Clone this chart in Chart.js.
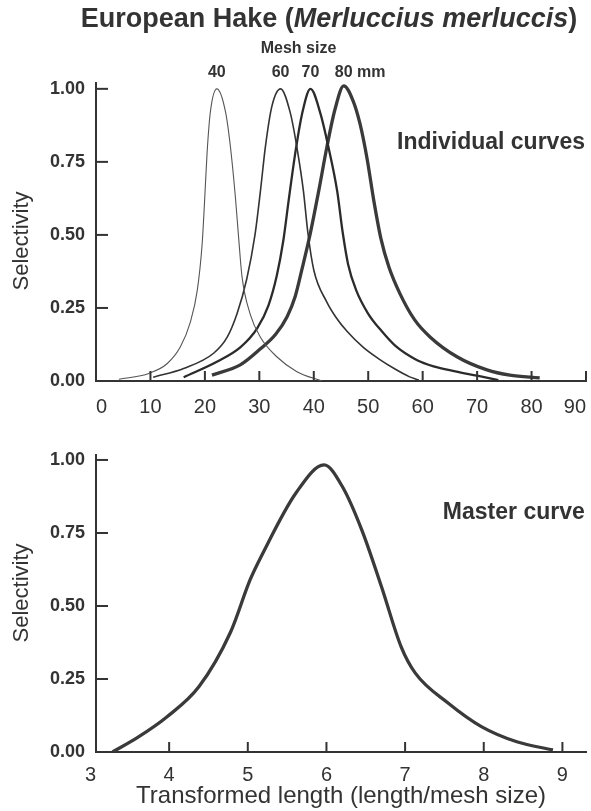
<!DOCTYPE html>
<html><head><meta charset="utf-8">
<script src="https://cdn.jsdelivr.net/npm/chart.js@4.4.0/dist/chart.umd.min.js"></script>
<style>
html,body{margin:0;padding:0;background:#fff;overflow:hidden;width:591px;height:811px;position:relative;}
#title{position:absolute;left:0;top:3px;width:658px;text-align:center;font:bold 27px "Liberation Sans",Arial,sans-serif;color:#333;white-space:nowrap;z-index:2;}
#w1{position:absolute;left:0;top:0;width:611px;height:420px;}
#w2{position:absolute;left:0;top:420px;width:611px;height:391px;}
</style></head><body>
<div id="w1"><canvas id="c1"></canvas></div>
<div id="w2"><canvas id="c2"></canvas></div>
<div id="title">European Hake (<i>Merluccius merluccis</i>)</div>
<script>
// ---- data ----
const topTickValues = [0,10,20,30,40,50,60,70,80,90];
const masterTickValues = [3,4,5,6,7,8,9];
const selTickValues = [0,0.25,0.5,0.75,1.0];
const meshSizes = ['40','60','70','80'];

const mesh40Len = [4.2,9.7,13.1,15.5,17.3,18.6,19.5,19.9,20.4,21.0,22.2,23.8,24.7,25.6,26.2,26.8,28.3,30.2,33.2,36.9,41.5];
const mesh40Sel = [0.006,0.026,0.06,0.117,0.2,0.31,0.47,0.6,0.78,0.92,1.0,0.92,0.80,0.63,0.49,0.36,0.23,0.15,0.083,0.032,0.0];

const mesh60Len = [10.5,16.1,21.6,24.1,25.9,27.7,29.2,30.2,31.1,32.3,33.9,35.7,36.9,38.1,38.9,40.0,42.4,44.0,46.1,49.1,52.0,55.0,57.5,59.3];
const mesh60Sel = [0.013,0.043,0.095,0.15,0.23,0.35,0.50,0.65,0.80,0.94,1.0,0.917,0.80,0.65,0.51,0.38,0.27,0.22,0.17,0.115,0.075,0.04,0.015,0.003];

const mesh70Len = [16.1,22.2,26.5,29.6,31.7,33.2,34.4,35.4,36.6,37.8,39.4,41.2,42.7,44.3,45.3,46.3,47.8,50.0,52.5,55.0,58.9,62.0,66.0,70.0,73.9];
const mesh70Sel = [0.013,0.066,0.115,0.18,0.26,0.36,0.48,0.62,0.78,0.91,1.0,0.917,0.80,0.65,0.51,0.40,0.31,0.23,0.17,0.12,0.072,0.05,0.033,0.018,0.003];

const mesh80Len = [21.3,26.5,30.2,33.0,35.1,36.6,37.8,39.3,40.9,42.4,43.9,45.5,47.2,48.5,49.8,51.0,52.3,53.8,55.8,58.5,61.4,66.3,71.8,76.0,81.5];
const mesh80Sel = [0.02,0.055,0.11,0.16,0.22,0.29,0.38,0.50,0.65,0.80,0.93,1.01,0.96,0.88,0.76,0.62,0.49,0.39,0.30,0.21,0.15,0.083,0.038,0.02,0.011];

const masterLen = [3.28,3.6,3.97,4.38,4.78,5.03,5.19,5.61,5.97,6.2,6.45,6.7,6.95,7.13,7.55,7.97,8.42,8.88];
const masterSel = [0.0,0.05,0.12,0.224,0.41,0.59,0.68,0.886,0.983,0.91,0.76,0.566,0.36,0.27,0.167,0.087,0.035,0.007];

// ---- helpers ----
const FAM = '"Liberation Sans", Arial, Helvetica, sans-serif';
const INK = '#333';
const zip = (xs, ys) => xs.map((x, i) => ({x: x, y: ys[i]}));

const inwardTicks = {
  id: 'inwardTicks',
  afterDraw(chart) {
    const {ctx, chartArea: a, scales: {x, y}} = chart;
    ctx.save();
    ctx.strokeStyle = INK; ctx.lineWidth = 2;
    x.ticks.forEach(t => {
      const px = x.getPixelForValue(t.value);
      if (px < a.left + 3) return;
      ctx.beginPath(); ctx.moveTo(px, a.bottom); ctx.lineTo(px, a.bottom - 10); ctx.stroke();
    });
    y.ticks.forEach(t => {
      const py = y.getPixelForValue(t.value);
      if (Math.abs(py - a.bottom) < 3) return;
      ctx.beginPath(); ctx.moveTo(a.left, py); ctx.lineTo(a.left + 12, py); ctx.stroke();
    });
    ctx.restore();
  }
};

function yTitle(ctx, text, cx, cy) {
  ctx.save();
  ctx.translate(cx, cy); ctx.rotate(-Math.PI / 2);
  ctx.font = '22px ' + FAM; ctx.fillStyle = INK;
  ctx.textAlign = 'center'; ctx.textBaseline = 'middle';
  ctx.fillText(text, 0, 0);
  ctx.restore();
}

function baseScales(xMin, xMax, xTicks, xHeight, tickPad) {
  return {
    x: {
      type: 'linear', min: xMin, max: xMax,
      afterBuildTicks: s => { s.ticks = xTicks.map(v => ({value: v})); },
      afterFit: s => { s.height = xHeight; },
      grid: {display: true, drawOnChartArea: false, drawTicks: false},
      border: {display: true, color: INK, width: 2},
      ticks: {color: INK, font: {family: FAM, size: 20}, padding: tickPad, autoSkip: false, maxRotation: 0}
    },
    y: {
      type: 'linear', min: 0,
      afterBuildTicks: s => { s.ticks = selTickValues.map(v => ({value: v})); },
      afterFit: s => { s.width = 96; },
      grid: {display: true, drawOnChartArea: false, drawTicks: false},
      border: {display: true, color: INK, width: 2},
      ticks: {color: INK, font: {family: FAM, size: 18, weight: 'bold'}, padding: 11, callback: v => Number(v).toFixed(2)}
    }
  };
}

const lineDs = (data, w, c) => ({
  data: data, borderColor: c, borderWidth: w, pointRadius: 0, fill: false,
  cubicInterpolationMode: 'monotone', showLine: true
});

// ---- top chart: individual curves ----
const topAnnot = {
  id: 'topAnnot',
  afterDraw(chart) {
    const {ctx, scales: {x, y}} = chart;
    ctx.save();
    ctx.fillStyle = INK;
    ctx.textBaseline = 'middle';
    ctx.font = 'bold 16px ' + FAM;
    ctx.textAlign = 'center';
    const top = y.getPixelForValue(1.0);
    ctx.fillText('Mesh size', x.getPixelForValue(37.2), top - 40);
    const peaks = [22.2, 33.9, 39.4, 45.5];
    meshSizes.forEach((m, i) => {
      ctx.textAlign = 'center';
      const px = x.getPixelForValue(peaks[i]);
      ctx.fillText(m, px, top - 16);
      if (i === meshSizes.length - 1) {
        ctx.textAlign = 'left';
        ctx.fillText(' mm', px + ctx.measureText(m).width / 2, top - 16);
      }
    });
    ctx.font = 'bold 23px ' + FAM;
    ctx.textAlign = 'left';
    ctx.fillText('Individual curves', x.getPixelForValue(55.3), y.getPixelForValue(0.815));
    ctx.restore();
    yTitle(ctx, 'Selectivity', 22, 241);
  }
};

const s1 = baseScales(0, 90, topTickValues, 39, 14);
s1.y.max = 1.02;
s1.x.ticks.align = 'inner';
new Chart(document.getElementById('c1'), {
  type: 'scatter',
  data: {datasets: [
    lineDs(zip(mesh40Len, mesh40Sel), 1.1, '#555'),
    lineDs(zip(mesh60Len, mesh60Sel), 1.6, '#333'),
    lineDs(zip(mesh70Len, mesh70Sel), 2.3, '#2b2b2b'),
    lineDs(zip(mesh80Len, mesh80Sel), 3.3, '#3a3a3a')
  ]},
  options: {
    responsive: true, maintainAspectRatio: false, animation: false, devicePixelRatio: 1,
    layout: {padding: {top: 83, right: 25, left: 0, bottom: 0}},
    plugins: {legend: {display: false}, tooltip: {enabled: false}, title: {display: false}},
    scales: s1
  },
  plugins: [inwardTicks, topAnnot]
});

// ---- bottom chart: master curve ----
const botAnnot = {
  id: 'botAnnot',
  afterDraw(chart) {
    const {ctx, scales: {x, y}} = chart;
    ctx.save();
    ctx.fillStyle = INK; ctx.textBaseline = 'middle'; ctx.textAlign = 'left';
    ctx.font = 'bold 23px ' + FAM;
    ctx.fillText('Master curve', x.getPixelForValue(7.48), y.getPixelForValue(0.818));
    ctx.restore();
    yTitle(ctx, 'Selectivity', 22, 173);
  }
};

const s2 = baseScales(3.07, 9.3, masterTickValues, 59, 11);
s2.y.max = 1.017;
s2.x.title = {display: true, text: 'Transformed length (length/mesh size)', color: INK,
  font: {family: FAM, size: 24}, padding: {top: 0, bottom: 0}};
new Chart(document.getElementById('c2'), {
  type: 'scatter',
  data: {datasets: [lineDs(zip(masterLen, masterSel), 3.3, '#3a3a3a')]},
  options: {
    responsive: true, maintainAspectRatio: false, animation: false, devicePixelRatio: 1,
    layout: {padding: {top: 35, right: 25, left: 0, bottom: 0}},
    plugins: {legend: {display: false}, tooltip: {enabled: false}, title: {display: false}},
    scales: s2
  },
  plugins: [inwardTicks, botAnnot]
});
</script>
</body></html>
